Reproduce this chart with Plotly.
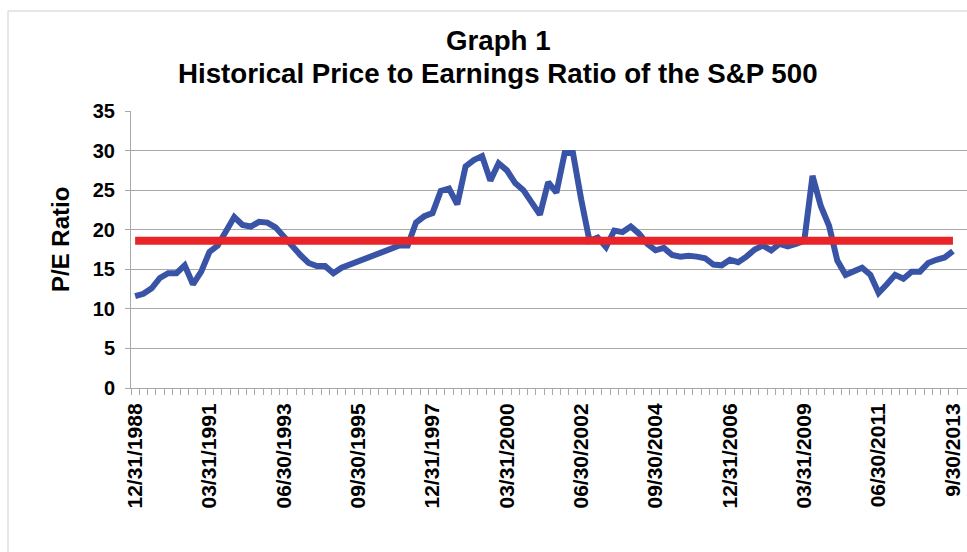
import pandas as pd
import plotly.graph_objects as go

# Quarter-end dates, 12/31/1988 .. 9/30/2013
quarters = [d.strftime("%m/%d/%Y") for d in pd.date_range("1988-12-31", periods=100, freq="QE")]

pe_ratio = [
    11.6, 11.9, 12.6, 13.9, 14.5, 14.5, 15.5, 13.1, 14.7, 17.2,
    18.0, 19.9, 21.6, 20.6, 20.4, 21.0, 20.9, 20.3, 19.1, 17.8,
    16.8, 15.8, 15.4, 15.4, 14.5, 15.2, 15.6, 16.0, 16.4, 16.8,
    17.2, 17.5, 18.0, 18.0, 20.9, 21.7, 22.1, 24.9, 25.2, 23.2,
    28.0, 28.8, 29.3, 26.2, 28.4, 27.5, 25.9, 25.0, 23.4, 21.9,
    26.0, 24.7, 29.7, 29.7, 23.8, 18.6, 19.0, 17.8, 19.9, 19.7,
    20.4, 19.5, 18.2, 17.4, 17.7, 16.8, 16.6, 16.7, 16.6, 16.4,
    15.6, 15.5, 16.2, 15.9, 16.6, 17.5, 18.0, 17.4, 18.2, 17.9,
    18.2, 18.6, 26.8, 23.0, 20.5, 16.1, 14.3, 14.8, 15.2, 14.3,
    12.0, 13.1, 14.3, 13.8, 14.7, 14.7, 15.8, 16.2, 16.5, 17.3,
]

average_pe = 18.6

tick_labels = ["12/31/1988", "03/31/1991", "06/30/1993", "09/30/1995", "12/31/1997",
               "03/31/2000", "06/30/2002", "09/30/2004", "12/31/2006", "03/31/2009",
               "06/30/2011", "9/30/2013"]
label_every = 9

y_ticks = [0, 5, 10, 15, 20, 25, 30, 35]

title_lines = ["Graph 1", "Historical Price to Earnings Ratio of the S&P 500"]

ticktext = [tick_labels[i // label_every] if i % label_every == 0 else "" for i in range(len(quarters))]

FONT = "Liberation Sans, Arial, sans-serif"
GRID = "#a8a8a8"

fig = go.Figure()
fig.add_trace(go.Scatter(
    x=quarters, y=pe_ratio, mode="lines", name="P/E Ratio",
    line=dict(color="rgb(57,84,166)", width=6), hoverinfo="x+y"))
fig.add_trace(go.Scatter(
    x=quarters, y=[average_pe] * len(quarters), mode="lines", name="Average",
    line=dict(color="rgb(233,36,40)", width=8), hoverinfo="y"))

W, H = 967, 552
L, R, T, B = 131, 0, 111, 164
pw, ph = W - L - R, H - T - B


def py(ypix):
    """figure pixel row -> paper y"""
    return (H - B - ypix) / ph


def px(xpix):
    return (xpix - L) / pw


annotations = [
    dict(text=title_lines[0], x=px(498), y=py(41)),
    dict(text=title_lines[1], x=px(498), y=py(73)),
]
for a in annotations:
    a.update(showarrow=False, xref="paper", yref="paper", xanchor="center", yanchor="middle",
             font=dict(family=FONT, size=27.7, color="black", weight="bold"))
annotations.append(dict(
    text="P/E Ratio", textangle=-90, showarrow=False,
    xref="paper", yref="paper", x=px(60), y=py(240),
    xanchor="center", yanchor="middle",
    font=dict(family=FONT, size=24, color="black", weight="bold")))

fig.update_layout(
    width=W, height=H,
    margin=dict(l=L, r=R, t=T, b=B, autoexpand=False),
    paper_bgcolor="white", plot_bgcolor="white",
    showlegend=False,
    font=dict(family=FONT, color="black"),
    xaxis=dict(
        type="category", categoryorder="array", categoryarray=quarters,
        range=[-0.5, 100.7], automargin=False,
        tickmode="array", tickvals=quarters, ticktext=ticktext,
        tickson="boundaries", ticks="outside", ticklen=6, tickcolor=GRID, tickwidth=1,
        tickangle=-90, ticklabelstandoff=6,
        tickfont=dict(family=FONT, size=21, color="black", weight="bold"),
        showgrid=False, showline=True, linecolor=GRID, linewidth=1, zeroline=False),
    yaxis=dict(
        range=[0, 35], tickmode="array", tickvals=y_ticks, automargin=False,
        ticks="outside", ticklen=5, tickcolor=GRID,
        ticklabelstandoff=6,
        tickfont=dict(family=FONT, size=20, color="black", weight="bold"),
        showgrid=True, gridcolor=GRID, gridwidth=1,
        showline=True, linecolor=GRID, linewidth=1, zeroline=False),
    annotations=annotations,
    shapes=[dict(
        type="rect", xref="paper", yref="paper", layer="below",
        x0=px(8), x1=px(W + 10),
        y0=py(H + 10), y1=py(11),
        line=dict(color="#cfcfcf", width=1), fillcolor="rgba(0,0,0,0)")],
)

fig.write_html(
    "out.html",
    config={"displayModeBar": False},
    post_script="document.body.style.margin='0';document.body.style.overflow='hidden';",
)
